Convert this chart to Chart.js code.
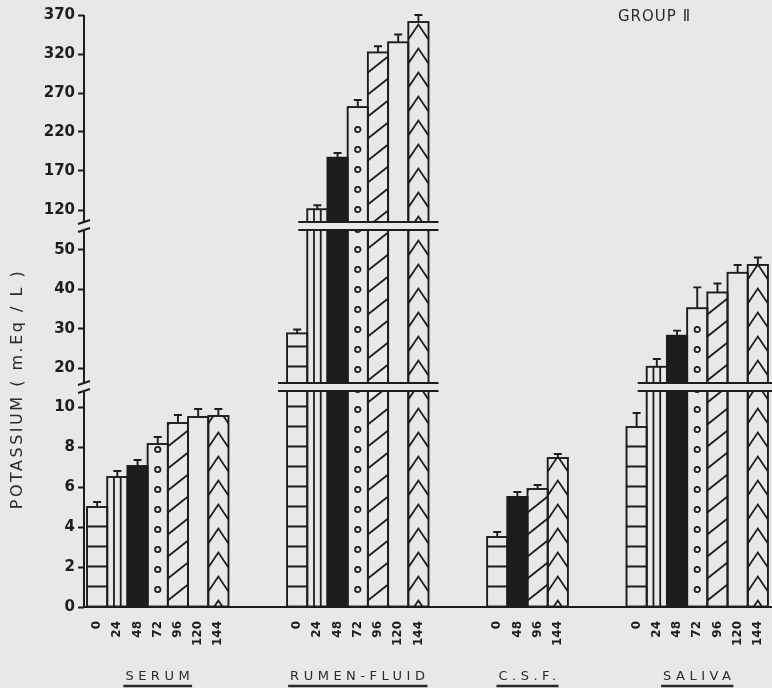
<!DOCTYPE html>
<html>
<head>
<meta charset="utf-8">
<script src="https://cdn.jsdelivr.net/npm/chart.js@4.4.0/dist/chart.umd.min.js"></script>
<style>
  html, body { margin: 0; padding: 0; background: #e8e8e6; }
  #wrap { position: relative; width: 772px; height: 688px; }
</style>
</head>
<body>
<div id="wrap"><canvas id="grafico"></canvas></div>
<script>
// --- DADOS ---
const grupos = ['SERUM', 'RUMEN-FLUID', 'C.S.F.', 'SALIVA'];
const tempos = [0, 24, 48, 72, 96, 120, 144];
const temposCSF = [0, 48, 96, 144];

const serumMedia  = [5.0, 6.5, 7.05, 8.15, 9.2, 9.5, 9.55];
const serumErro   = [0.25, 0.3, 0.3, 0.35, 0.4, 0.4, 0.35];
const rumenMedia  = [28.8, 121, 187, 252, 322, 335, 361];
const rumenErro   = [1.0, 5, 6, 9, 8, 10, 9];
const csfMedia    = [3.5, 5.5, 5.9, 7.45];
const csfErro     = [0.25, 0.25, 0.2, 0.2];
const salivaMedia = [9.0, 20.3, 28.2, 35.2, 39.2, 44.2, 46.2];
const salivaErro  = [0.7, 2.0, 1.3, 5.3, 2.3, 2.0, 1.9];

const yTicks = [0, 2, 4, 6, 8, 10, 20, 30, 40, 50, 120, 170, 220, 270, 320, 370];

// --- ESTILO / LAYOUT ---
const COR_FUNDO = '#e8e8e6';
const COR_TINTA = '#1d1d1d';
const GAP = 2.9; // espaço entre grupos (em larguras de barra)

// eixo quebrado: [valor min, valor max, pos min, pos max]  (pos = px acima da base)
const trechos = [
    [0, 10, 0, 200],
    [20, 50, 239, 357],
    [120, 370, 397, 592]
];
const quebras = [[216, 224], [377, 385]];

function toPos(v) {
    for (let i = 0; i < trechos.length; i++) {
        const [a, b, pa, pb] = trechos[i];
        if (v <= b) {
            if (v >= a || i === 0) return pa + (v - a) * (pb - pa) / (b - a);
            const ant = trechos[i - 1];
            return ant[3] + (v - ant[1]) * (pa - ant[3]) / (a - ant[1]);
        }
    }
    const [a, b, pa, pb] = trechos[trechos.length - 1];
    return pa + (v - a) * (pb - pa) / (b - a);
}

const series = [
    { nome: grupos[0], tempos: tempos,    media: serumMedia,  erro: serumErro },
    { nome: grupos[1], tempos: tempos,    media: rumenMedia,  erro: rumenErro },
    { nome: grupos[2], tempos: temposCSF, media: csfMedia,    erro: csfErro },
    { nome: grupos[3], tempos: tempos,    media: salivaMedia, erro: salivaErro }
];

let inicio = 0;
series.forEach(s => {
    s.inicio = inicio;
    inicio += s.tempos.length + GAP;
});

const xTicks = [];
series.forEach(s => s.tempos.forEach((t, i) => xTicks.push({ x: s.inicio + i + 0.5, t: t })));

// --- HACHURAS ---
function hachura(ctx, t, L, R, T, B) {
    const w = R - L, cx = (L + R) / 2;
    ctx.save();
    ctx.beginPath();
    ctx.rect(L, T, w, B - T);
    ctx.clip();
    ctx.strokeStyle = COR_TINTA;
    ctx.lineWidth = 1.8;
    ctx.beginPath();
    if (t === 0) {
        for (let y = B - 20; y > T + 2; y -= 20) { ctx.moveTo(L, y); ctx.lineTo(R, y); }
    } else if (t === 24) {
        [1 / 3, 2 / 3].forEach(f => { ctx.moveTo(L + w * f, T); ctx.lineTo(L + w * f, B); });
    } else if (t === 72) {
        for (let y = B - 17; y > T + 4; y -= 20) { ctx.moveTo(cx + 2.7, y); ctx.arc(cx, y, 2.7, 0, Math.PI * 2); }
    } else if (t === 96) {
        for (let y = B + 16; y > T - 2; y -= 22) { ctx.moveTo(L, y); ctx.lineTo(R, y - 16); }
    } else if (t === 144) {
        for (let y = B - 6; y > T - 16; y -= 24) { ctx.moveTo(L, y + 15); ctx.lineTo(cx, y); ctx.lineTo(R, y + 15); }
    }
    ctx.stroke();
    ctx.restore();
}

const desenhoExtra = {
    id: 'desenhoExtra',
    afterDatasetsDraw(chart) {
        const ctx = chart.ctx;
        const yS = chart.scales.y, area = chart.chartArea;
        const ax = area.left;

        // barras: hachura + contorno + erro
        chart.data.datasets.forEach((ds, di) => {
            const meta = chart.getDatasetMeta(di);
            meta.data.forEach((el, i) => {
                const p = el.getProps(['x', 'y', 'base', 'width'], true);
                const raw = ds.data[i];
                const L = p.x - p.width / 2, R = p.x + p.width / 2;
                hachura(ctx, raw.t, L, R, p.y, p.base);
                ctx.save();
                ctx.strokeStyle = COR_TINTA;
                ctx.lineWidth = 1.9;
                ctx.strokeRect(L, p.y, R - L, p.base - p.y);
                const yc = yS.getPixelForValue(toPos(raw.v + raw.e));
                ctx.beginPath();
                ctx.moveTo(p.x, p.y); ctx.lineTo(p.x, yc);
                ctx.moveTo(p.x - 4, yc); ctx.lineTo(p.x + 4, yc);
                ctx.stroke();
                ctx.restore();
            });
        });

        // faixas de quebra sobre as barras
        chart.data.datasets.forEach((ds, di) => {
            const meta = chart.getDatasetMeta(di);
            quebras.forEach(([q0, q1]) => {
                const cruzam = meta.data.filter((el, i) => ds.data[i].y > q1);
                if (!cruzam.length) return;
                const a = cruzam[0].getProps(['x', 'width'], true);
                const b = cruzam[cruzam.length - 1].getProps(['x', 'width'], true);
                const x0 = a.x - a.width / 2 - 9;
                const x1 = Math.min(b.x + b.width / 2 + 10, area.right);
                const y0 = yS.getPixelForValue(q1), y1 = yS.getPixelForValue(q0);
                ctx.save();
                ctx.fillStyle = COR_FUNDO;
                ctx.fillRect(x0, y0, x1 - x0, y1 - y0);
                ctx.strokeStyle = COR_TINTA;
                ctx.lineWidth = 2;
                ctx.beginPath();
                ctx.moveTo(x0, y0); ctx.lineTo(x1, y0);
                ctx.moveTo(x0, y1); ctx.lineTo(x1, y1);
                ctx.stroke();
                ctx.restore();
            });
        });

        // eixo y segmentado
        ctx.save();
        ctx.strokeStyle = COR_TINTA;
        ctx.lineWidth = 2;
        const lim = [0].concat(...quebras).concat([yS.max]);
        ctx.beginPath();
        for (let k = 0; k < lim.length; k += 2) {
            ctx.moveTo(ax, yS.getPixelForValue(lim[k]));
            ctx.lineTo(ax, yS.getPixelForValue(lim[k + 1]));
        }
        quebras.forEach(([q0, q1]) => {
            [q0, q1].forEach(q => {
                const y = yS.getPixelForValue(q);
                ctx.moveTo(ax - 6, y + 2); ctx.lineTo(ax + 6, y - 2);
            });
        });
        ctx.stroke();
        ctx.restore();
    },
    afterDraw(chart) {
        const ctx = chart.ctx;
        const xS = chart.scales.x;
        ctx.save();
        ctx.fillStyle = '#2a2a2a';
        ctx.strokeStyle = '#2a2a2a';

        // título do eixo y
        ctx.save();
        ctx.translate(18, 389);
        ctx.rotate(-Math.PI / 2);
        ctx.font = '16px "DejaVu Sans"';
        ctx.letterSpacing = '2.5px';
        ctx.textAlign = 'center';
        ctx.textBaseline = 'middle';
        ctx.fillText('POTASSIUM ( m.Eq / L )', 0, 0);
        ctx.restore();

        // nomes dos grupos sublinhados
        ctx.font = '13px "DejaVu Sans"';
        ctx.letterSpacing = '4.5px';
        ctx.textAlign = 'center';
        ctx.textBaseline = 'middle';
        ctx.lineWidth = 2.5;
        series.forEach(s => {
            const cx = xS.getPixelForValue(s.inicio + s.tempos.length / 2);
            ctx.fillText(s.nome, cx + 2, 677);
            const w = ctx.measureText(s.nome).width;
            ctx.beginPath();
            ctx.moveTo(cx - w / 2, 686);
            ctx.lineTo(cx + w / 2, 686);
            ctx.stroke();
        });

        ctx.font = '15px "DejaVu Sans"';
        ctx.letterSpacing = '1px';
        ctx.textAlign = 'left';
        ctx.fillText('GROUP \u2161', 618, 17);
        ctx.restore();
    }
};

const ctx = document.getElementById('grafico').getContext('2d');
new Chart(ctx, {
    type: 'bar',
    data: {
        datasets: series.map(s => ({
            label: s.nome,
            data: s.tempos.map((t, i) => ({
                x: s.inicio + i + 0.5,
                y: toPos(s.media[i]),
                t: t, v: s.media[i], e: s.erro[i]
            })),
            backgroundColor: c => (c.raw && c.raw.t === 48) ? COR_TINTA : COR_FUNDO,
            borderWidth: 0,
            grouped: false,
            categoryPercentage: 1,
            barPercentage: 1
        }))
    },
    options: {
        responsive: true,
        maintainAspectRatio: false,
        animation: false,
        layout: { padding: { top: 15, right: 0, bottom: 0, left: 0 } },
        plugins: {
            legend: { display: false },
            tooltip: { enabled: false }
        },
        scales: {
            x: {
                type: 'linear',
                offset: false,
                min: -0.15,
                max: 33.9,
                afterBuildTicks: axis => { axis.ticks = xTicks.map(p => ({ value: p.x })); },
                afterFit: axis => {
                    axis.height = 81;
                    axis.paddingLeft = 0;
                    axis.paddingRight = 0;
                },
                grid: { display: true, offset: false, drawOnChartArea: false, drawTicks: false },
                border: { display: true, color: COR_TINTA, width: 2 },
                ticks: {
                    autoSkip: false,
                    maxRotation: 90,
                    minRotation: 90,
                    padding: 14,
                    color: COR_TINTA,
                    font: { family: 'DejaVu Sans', size: 12, weight: 'bold' },
                    callback: (v, i) => String(xTicks[i].t)
                }
            },
            y: {
                type: 'linear',
                min: 0,
                max: 592,
                afterBuildTicks: axis => { axis.ticks = yTicks.map(v => ({ value: toPos(v) })); },
                afterFit: axis => { axis.width = 84; },
                grid: {
                    display: true,
                    drawOnChartArea: false,
                    drawTicks: true,
                    tickLength: 6,
                    tickColor: COR_TINTA,
                    tickWidth: 2
                },
                border: { display: false },
                ticks: {
                    padding: 3,
                    color: COR_TINTA,
                    font: { family: 'DejaVu Sans', size: 15, weight: 'bold' },
                    callback: (v, i) => String(yTicks[i])
                }
            }
        }
    },
    plugins: [desenhoExtra]
});
</script>
</body>
</html>
